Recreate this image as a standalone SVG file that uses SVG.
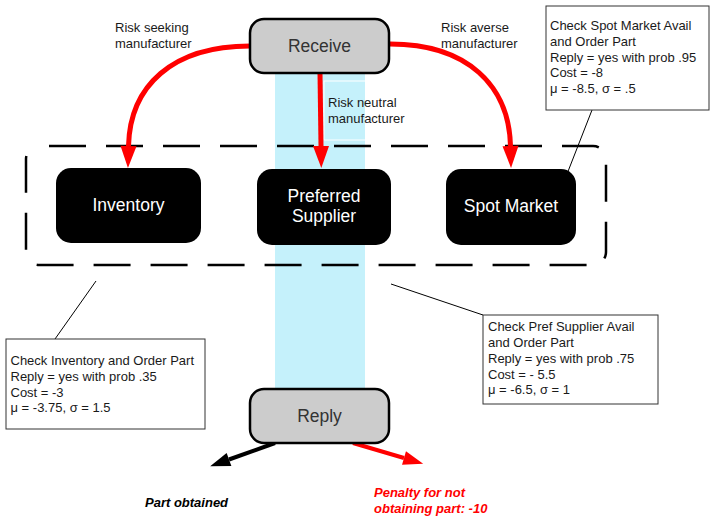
<svg xmlns="http://www.w3.org/2000/svg" width="711" height="517" viewBox="0 0 711 517">
<defs>
<style>
.t{font-family:"Liberation Sans",Arial,sans-serif;fill:#1a1a1a}
.lbl{font-size:13px}
.call{font-size:13px}
.node{fill:#000}
.ntxt{font-family:"Liberation Sans",Arial,sans-serif;font-size:17.5px;fill:#fff;text-anchor:middle}
.gray{fill:#cccccc;stroke:#000;stroke-width:2.5}
.gtxt{font-family:"Liberation Sans",Arial,sans-serif;font-size:17.5px;fill:#333;text-anchor:middle}
.box{fill:#fff;stroke:#333;stroke-width:1}
.red{fill:none;stroke:#ff0000;stroke-width:5}
.red2{fill:none;stroke:#ff0000;stroke-width:4}
.blk{fill:none;stroke:#000;stroke-width:4}
.lead{stroke:#000;stroke-width:1;fill:none}
.bi{font-family:"Liberation Sans",Arial,sans-serif;font-size:13px;font-weight:bold;font-style:italic}
</style>
<marker id="ar" markerUnits="userSpaceOnUse" markerWidth="24" markerHeight="18" refX="0" refY="8" orient="auto" overflow="visible">
<path d="M0,0 L22,8 L0,16 Z" fill="#ff0000"/>
</marker>
<marker id="ar2" markerUnits="userSpaceOnUse" markerWidth="22" markerHeight="16" refX="0" refY="7" orient="auto" overflow="visible">
<path d="M0,0 L20,7 L0,14 Z" fill="#ff0000"/>
</marker>
<marker id="ab" markerUnits="userSpaceOnUse" markerWidth="22" markerHeight="16" refX="0" refY="7" orient="auto" overflow="visible">
<path d="M0,0 L20,7 L0,14 Z" fill="#000"/>
</marker>
</defs>
<rect width="711" height="517" fill="#fff"/>
<rect x="275" y="73" width="90" height="318" fill="#c5f1fb"/>
<rect x="324" y="81" width="90" height="59" fill="none" stroke="#fff" stroke-width="1"/>
<rect id="group" x="26" y="146" width="580" height="119" rx="13" fill="none" stroke="#000" stroke-width="2.5" stroke-dasharray="37 20" stroke-dashoffset="-10"/>

<g id="connectors">
<path class="red" d="M250,46 C172,46 130,86 128.5,146" marker-end="url(#ar)"/>
<path class="red" d="M320,73 L321,146" marker-end="url(#ar)"/>
<path class="red" d="M390,44 C468,44 509,86 510.5,146" marker-end="url(#ar)"/>
<path class="blk" d="M275,443 L229,459.5" marker-end="url(#ab)"/>
<path class="red2" d="M353,443 L404,458" marker-end="url(#ar2)"/>
<line class="lead" x1="96" y1="281" x2="55" y2="339"/>
<line class="lead" x1="391" y1="284" x2="483" y2="315"/>
<line class="lead" x1="592" y1="110" x2="567" y2="174"/>
</g>

<g id="receive">
<rect class="gray" x="250" y="19" width="139" height="54" rx="14"/>
<text class="gtxt" x="319.5" y="52">Receive</text>
</g>
<g id="reply">
<rect class="gray" x="250" y="389" width="139" height="54" rx="14"/>
<text class="gtxt" x="319.5" y="422">Reply</text>
</g>

<g id="inventory">
<rect class="node" x="56" y="168" width="145" height="75" rx="15"/>
<text class="ntxt" x="128.5" y="211">Inventory</text>
</g>
<g id="preferred">
<rect class="node" x="257" y="169" width="134" height="76" rx="15"/>
<text class="ntxt" x="324" y="202">Preferred</text>
<text class="ntxt" x="324" y="222">Supplier</text>
</g>
<g id="spot">
<rect class="node" x="446" y="169" width="130" height="76" rx="15"/>
<text class="ntxt" x="511" y="212">Spot Market</text>
</g>

<g id="labels">
<text class="t lbl" x="115" y="32">Risk seeking</text>
<text class="t lbl" x="115" y="47.5">manufacturer</text>
<text class="t lbl" x="441" y="32">Risk averse</text>
<text class="t lbl" x="441" y="47.5">manufacturer</text>
<text class="t lbl" x="328" y="107">Risk neutral</text>
<text class="t lbl" x="328" y="122.5">manufacturer</text>
</g>

<g id="note-inventory">
<rect class="box" x="6" y="339" width="199" height="90"/>
<text class="t call" x="10.5" y="365">Check Inventory and Order Part</text>
<text class="t call" x="10.5" y="381">Reply = yes with prob .35</text>
<text class="t call" x="10.5" y="397">Cost = -3</text>
<text class="t call" x="10.5" y="412">μ = -3.75, σ = 1.5</text>
</g>
<g id="note-pref">
<rect class="box" x="483" y="315" width="175" height="89"/>
<text class="t call" x="488" y="331">Check Pref Supplier Avail</text>
<text class="t call" x="488" y="347">and Order Part</text>
<text class="t call" x="488" y="363">Reply = yes with prob .75</text>
<text class="t call" x="488" y="379">Cost = - 5.5</text>
<text class="t call" x="488" y="394">μ = -6.5, σ = 1</text>
</g>
<g id="note-spot">
<rect class="box" x="546" y="6" width="163" height="104"/>
<text class="t call" x="550" y="30">Check Spot Market Avail</text>
<text class="t call" x="550" y="46">and Order Part</text>
<text class="t call" x="550" y="62">Reply = yes with prob .95</text>
<text class="t call" x="550" y="77">Cost = -8</text>
<text class="t call" x="550" y="93">μ = -8.5, σ = .5</text>
</g>

<g id="outcomes">
<text class="bi" x="145" y="507" fill="#000">Part obtained</text>
<text class="bi" x="374" y="497" fill="#ff0000">Penalty for not</text>
<text class="bi" x="374" y="513" fill="#ff0000">obtaining part: -10</text>
</g>
</svg>
